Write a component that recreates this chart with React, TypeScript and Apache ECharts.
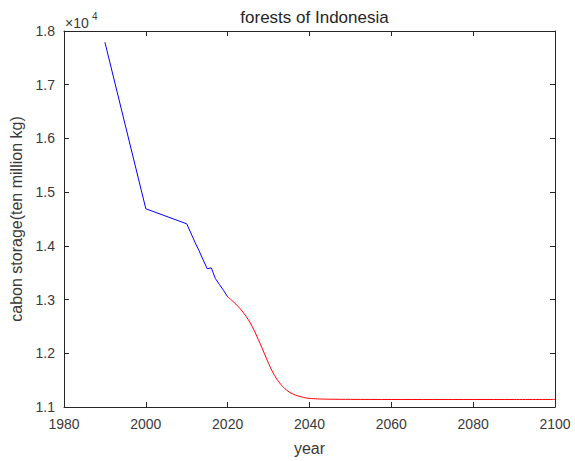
import React, { useEffect, useRef } from "react";
import * as echarts from "echarts";

const blueYears = [1990, 2000, 2010, 2011, 2012, 2013, 2014, 2015, 2016, 2017, 2018, 2019, 2020];
const blueValues = [17790, 14690, 14410, 14240, 14070, 13910, 13740, 13574, 13590, 13390, 13280, 13170, 13050];

const redYears = [2020, 2021, 2022, 2023, 2024, 2025, 2026, 2027, 2028, 2029, 2030, 2031, 2032, 2033, 2034, 2035, 2036, 2037, 2038, 2039, 2040, 2041, 2042, 2043, 2044, 2045, 2050, 2060, 2070, 2080, 2090, 2100];
const redValues = [13050, 12985, 12915, 12835, 12740, 12630, 12500, 12340, 12170, 11990, 11810, 11650, 11520, 11420, 11340, 11280, 11240, 11210, 11190, 11170, 11160, 11155, 11150, 11148, 11146, 11145, 11142, 11140, 11140, 11140, 11140, 11140];

const xTicks = [1980, 2000, 2020, 2040, 2060, 2080, 2100];
const yTicks = [11000, 12000, 13000, 14000, 15000, 16000, 17000, 18000];

const titleText = "forests of Indonesia";
const xName = "year";
const yName = "cabon storage(ten million kg)";

const FONT = "'Liberation Sans', Arial, Helvetica, sans-serif";
const AXIS = "#262626";
const LABEL = "#3a3a3a";

export default function App() {
  const ref = useRef<HTMLDivElement>(null);
  useEffect(() => {
    if (!ref.current) return;
    const chart = echarts.init(ref.current, null, { renderer: "svg" });
    const pair = (xs: number[], ys: number[]) => xs.map((x, i) => [x, ys[i]]);
    const axisLine = { show: true, onZero: false, lineStyle: { color: AXIS, width: 1 } };
    const axisTick = { show: true, inside: true, length: 5, lineStyle: { color: AXIS } };
    chart.setOption({
      animation: false,
      backgroundColor: "#ffffff",
      textStyle: { fontFamily: FONT },
      title: {
        text: titleText,
        left: 309.5,
        textAlign: "center",
        top: 4,
        textStyle: { fontSize: 17, fontWeight: "normal", color: AXIS, fontFamily: FONT },
      },
      grid: { left: 64, right: 20, top: 31, bottom: 52, containLabel: false },
      xAxis: [
        {
          type: "value",
          min: xTicks[0],
          max: xTicks[xTicks.length - 1],
          interval: 20,
          position: "bottom",
          name: xName,
          nameLocation: "middle",
          nameGap: 33,
          nameTextStyle: { fontSize: 16, color: LABEL, fontFamily: FONT },
          axisLine,
          axisTick,
          axisLabel: {
            show: true,
            fontSize: 14,
            color: LABEL,
            margin: 10,
            fontFamily: FONT,
            formatter: (v: number) => String(v),
          },
          splitLine: { show: false },
        },
        {
          type: "value",
          min: xTicks[0],
          max: xTicks[xTicks.length - 1],
          interval: 20,
          position: "top",
          axisLine,
          axisTick,
          axisLabel: { show: false },
          splitLine: { show: false },
        },
      ],
      yAxis: [
        {
          type: "value",
          min: yTicks[0],
          max: yTicks[yTicks.length - 1],
          interval: 1000,
          position: "left",
          name: yName,
          nameLocation: "middle",
          nameGap: 37,
          nameRotate: 90,
          nameTextStyle: { fontSize: 16, color: LABEL, fontFamily: FONT },
          axisLine,
          axisTick,
          axisLabel: {
            show: true,
            fontSize: 14,
            color: LABEL,
            margin: 9,
            fontFamily: FONT,
            formatter: (v: number) => (v / 10000).toFixed(1),
          },
          splitLine: { show: false },
        },
        {
          type: "value",
          min: yTicks[0],
          max: yTicks[yTicks.length - 1],
          interval: 1000,
          position: "right",
          axisLine,
          axisTick,
          axisLabel: { show: false },
          splitLine: { show: false },
        },
      ],
      graphic: [
        {
          type: "text",
          left: 65,
          top: 16,
          style: { text: "×10", fontSize: 14, fill: LABEL, fontFamily: FONT },
        },
        {
          type: "text",
          left: 92,
          top: 11,
          style: { text: "4", fontSize: 10, fill: LABEL, fontFamily: FONT },
        },
      ],
      series: [
        {
          type: "line",
          data: pair(blueYears, blueValues),
          showSymbol: false,
          lineStyle: { color: "#0000ff", width: 1 },
          itemStyle: { color: "#0000ff" },
        },
        {
          type: "line",
          data: pair(redYears, redValues),
          showSymbol: false,
          smooth: 0.3,
          lineStyle: { color: "#ff0000", width: 1 },
          itemStyle: { color: "#ff0000" },
        },
      ],
    });
    return () => chart.dispose();
  }, []);
  return (
    <div
      ref={ref}
      style={{ position: "fixed", left: 0, top: 0, width: 575, height: 461, background: "#fff" }}
    />
  );
}
